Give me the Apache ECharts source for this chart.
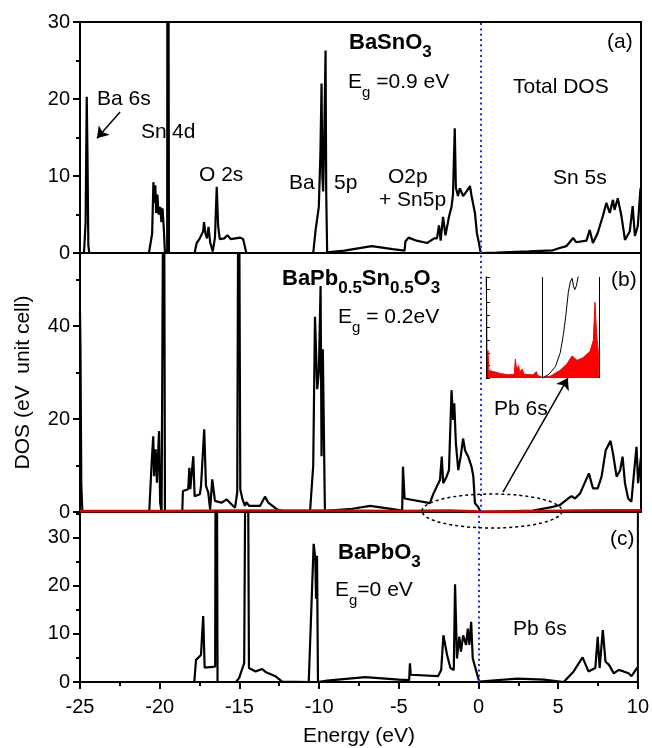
<!DOCTYPE html>
<html>
<head>
<meta charset="utf-8">
<script src="https://cdn.jsdelivr.net/npm/echarts@6/dist/echarts.min.js"></script>
<style>
html, body { margin: 0; padding: 0; background: #fff; }
#dos-chart { width: 652px; height: 748px; }
</style>
</head>
<body>
<div id="dos-chart"></div>
<script>
// energy (eV) / DOS pairs
var dosA = [
    [-25,0],[-24.75,0],[-24.65,4],[-24.58,20.3],[-24.53,12],[-24.48,1],[-24.42,0],
    [-20.7,0],[-20.5,2.5],[-20.42,9.2],[-20.36,6.5],[-20.3,8.8],[-20.25,5.2],[-20.17,7.6],[-20.1,5],[-20.0,6],[-19.92,4],[-19.85,5.8],[-19.78,3.5],[-19.7,0],
    [-19.56,0],[-19.53,100],[-19.48,100],[-19.45,0],
    [-17.85,0],[-17.72,1.3],[-17.55,1.8],[-17.45,2.0],[-17.32,2.8],[-17.26,4.0],[-17.18,2.6],[-17.08,1.9],[-16.98,3.4],[-16.88,1.4],[-16.72,0.2],[-16.58,2.0],[-16.47,8.6],[-16.38,3.5],[-16.28,1.8],[-16.0,1.9],[-15.8,2.3],[-15.6,1.8],[-15.3,1.9],[-15.0,2.0],[-14.82,1.8],[-14.62,0],
    [-10.45,0],[-10.3,3],[-10.1,6],[-10.0,13],[-9.93,22],[-9.88,10],[-9.83,8],[-9.77,14],[-9.68,26.3],[-9.64,8],[-9.58,0.1],
    [-8.5,0.3],[-6.8,0.9],[-5.5,0.5],[-4.75,0.3],[-4.7,1.5],[-4.5,2.0],[-4.0,1.6],[-3.35,1.3],[-2.9,1.9],[-2.73,1.9],[-2.6,3.6],[-2.5,1.6],[-2.35,4.7],[-2.2,2.3],[-1.98,4.7],[-1.82,6],[-1.73,7.6],[-1.62,16.2],[-1.55,8.5],[-1.42,7.4],[-1.3,8.4],[-1.1,7.4],[-0.88,8],[-0.67,8.7],[-0.57,7.4],[-0.48,7.6],[-0.36,5.2],[-0.24,2.6],[-0.11,1.3],[0,0],
    [1,0.05],[3,0.2],[4.5,0.35],[4.93,0.65],[5.35,0.9],[5.77,1.95],[5.95,1.4],[6.6,1.6],[6.8,3.0],[7.0,1.3],[7.3,2.6],[7.62,4.8],[7.84,6.5],[8.05,5.2],[8.25,6.9],[8.35,5.6],[8.55,7.1],[8.78,4.8],[9.0,1.7],[9.3,2.8],[9.48,6.1],[9.62,2.2],[9.8,3.5],[9.97,8.4],[10,8.4]
];
var dosB = [
    [-25,43],[-24.97,35],[-24.92,6],[-24.85,0],
    [-20.68,0],[-20.53,10.6],[-20.43,16.3],[-20.38,7.7],[-20.28,13.5],[-20.2,6.3],[-20.07,17.4],[-20.0,2],[-19.91,0],[-19.8,0],[-19.77,100],[-19.73,100],[-19.7,0],
    [-18.62,0],[-18.58,4.5],[-18.25,4.9],[-18.18,9.5],[-18.12,4.9],[-17.93,12.0],[-17.85,3.4],[-17.52,3.8],[-17.45,5.6],[-17.25,17.8],[-17.14,5.6],[-17.0,4.2],[-16.88,0.5],[-16.75,7.0],[-16.58,2.4],[-16.17,2.0],[-15.85,2.7],[-15.33,0.9],[-15.19,4.2],[-15.1,100],[-15.05,100],[-15.0,4.9],[-14.86,2.7],[-14.71,1.3],[-14.62,2.1],[-14.44,1.3],[-13.77,1.3],[-13.46,3.3],[-13.25,2.0],[-12.73,0.6],[-12.11,0],
    [-10.65,0],[-10.45,10],[-10.34,42],[-10.2,26.4],[-10.1,30],[-9.99,48.6],[-9.93,12],[-9.85,35],[-9.72,0],
    [-9.5,0.3],[-8,0.7],[-6.9,1.3],[-5.5,0.6],[-4.9,0.3],[-4.85,9.75],[-4.75,2.9],[-3.17,1.9],[-2.98,3.7],[-2.75,5.4],[-2.54,6.9],[-2.43,11.9],[-2.34,6.2],[-2.13,7.6],[-1.98,9],[-1.82,26.2],[-1.72,19.8],[-1.65,23.4],[-1.55,14.8],[-1.4,9],[-1.25,11.9],[-1.1,15.8],[-0.98,13.3],[-0.78,11.9],[-0.57,9.7],[-0.46,7.6],[-0.36,1.9],[-0.16,1.1],[0,0],
    [1,0.1],[3.26,0.3],[4.5,1.1],[4.93,1.5],[5.45,2.9],[5.67,3.4],[5.88,2.9],[6.2,4.0],[6.75,8.3],[7.0,5.1],[7.3,5.1],[7.54,7.6],[7.8,13.3],[7.9,13],[8.1,15.3],[8.25,12.6],[8.48,7.6],[8.7,9],[8.85,11.9],[9.0,6.2],[9.2,2.9],[9.4,2.2],[9.62,10.5],[9.72,14],[9.82,6.2],[10,11.9]
];
// Pb 6s partial DOS (red) in panel b
var pbB = [[-25,0.2],[-20,0.2],[-15,0.3],[-10,0.3],[-5,0.2],[-2,0.3],[0,0.1],[2,0.1],[4,0.2],[6,0.3],[8,0.4],[10,0.4]];
var dosC = [
    [-25,0],[-17.83,0],[-17.72,4.6],[-17.41,5.6],[-17.27,13.7],[-17.18,3.0],[-16.52,3.2],[-16.46,100],[-16.41,100],[-16.37,0],
    [-15.22,0],[-15.02,0.8],[-14.7,3.9],[-14.53,100],[-14.47,100],[-14.4,2.9],[-13.98,2.2],[-13.57,2.7],[-13.36,2.1],[-12.74,1.2],[-12.32,0.1],[-12.2,0],
    [-10.65,0],[-10.45,18.6],[-10.34,28.7],[-10.24,25.8],[-10.19,17.3],[-10.13,26.2],[-10.07,0],
    [-9.5,0.3],[-7.1,1.0],[-5,0.5],[-4.35,0.4],[-4.3,3.9],[-4.25,1.5],[-2.54,1.2],[-2.34,2.5],[-2.2,9.7],[-2.13,10],[-1.97,5.6],[-1.76,2.9],[-1.55,2.5],[-1.47,20.3],[-1.35,4.9],[-1.2,9.4],[-1.1,6.3],[-0.96,9.7],[-0.78,7.7],[-0.67,11.1],[-0.57,7.7],[-0.46,12.5],[-0.36,4.9],[0.04,0.1],
    [2.45,0.7],[4.1,0.5],[5.35,0],[5.97,2.2],[6.53,5.1],[6.9,2.2],[7.33,2.9],[7.48,9.4],[7.6,2.9],[7.8,10.8],[7.97,4.2],[8.18,3.6],[8.49,1.8],[8.8,2.5],[9.1,2.2],[9.42,1.8],[9.6,1.2],[9.94,2.9],[10,2.9]
];
// inset of panel b (zoom round the gap)
var insetPb = [[-3.5,0],[-3.42,0.3],[-3.38,2.2],[-3.33,0.6],[-3.0,0.5],[-2.6,0.35],[-2.14,0.25],[-1.75,0.3],[-1.68,1.5],[-1.6,0.6],[-1.48,1.0],[-1.42,0.5],[-1.25,0.7],[-1.15,0.3],[-0.6,0.25],[-0.38,0.5],[-0.3,0.2],[0,0.05],[0.5,0.15],[1.08,0.6],[1.5,1.1],[1.83,1.75],[2.14,1.4],[2.5,1.6],[2.94,2.1],[3.15,3.0],[3.25,6.0],[3.35,3.5],[3.45,2.2],[3.5,0]];
var insetTotal = [[-3.5,9],[-3.46,5.6],[-3.44,0],[-3.4,'-'],[0,0],[0.4,0.3],[0.8,0.9],[1.1,2.0],[1.3,3.5],[1.45,5.0],[1.6,6.8],[1.72,7.6],[1.83,7.9],[1.92,7.3],[2.0,7.0],[2.1,7.3],[2.25,8.3]];
var insetMarks = [0, 3.5];
var yMax = [30, 55.7, 35.3];
var yStep = [10, 20, 10];

var fam = '"Liberation Sans", Arial, sans-serif';
var black = '#000';

function xAxisOf(idx, bottom){
    var ax = {
        gridIndex: idx, type: 'value', min: -25, max: 10, interval: 5, position: 'bottom',
        splitLine: {show: false},
        axisLine: {onZero: false, lineStyle: {color: black, width: 2}},
        axisTick: {show: false},
        axisLabel: {show: false}
    };
    if (bottom){
        ax.axisTick = {show: true, length: 7, lineStyle: {color: black, width: 2}};
        ax.minorTick = {show: true, splitNumber: 2, length: 4, lineStyle: {color: black, width: 2}};
        ax.axisLabel = {show: true, color: black, fontSize: 20, fontFamily: fam, margin: 15};
        ax.name = 'Energy (eV)';
        ax.nameLocation = 'middle';
        ax.nameGap = 44;
        ax.nameTextStyle = {color: black, fontSize: 21, fontFamily: fam};
    }
    return ax;
}
// major axis (labels) and an overlaid minor axis (short ticks), both on the left
function yAxesOf(idx){
    var major = {
        gridIndex: idx, type: 'value', min: 0, max: yMax[idx], interval: yStep[idx], position: 'left',
        splitLine: {show: false},
        axisLine: {show: true, onZero: false, lineStyle: {color: black, width: 2}},
        axisTick: {show: true, length: 7, lineStyle: {color: black, width: 2}},
        axisLabel: {color: black, fontSize: 20, fontFamily: fam, margin: 10, showMaxLabel: yMax[idx] % yStep[idx] == 0}
    };
    var minor = {
        gridIndex: idx, type: 'value', min: 0, max: yMax[idx], interval: yStep[idx] / 2, position: 'left', offset: 0,
        splitLine: {show: false},
        axisLine: {show: false, onZero: false},
        axisTick: {show: true, length: 4, lineStyle: {color: black, width: 2}},
        axisLabel: {show: false}
    };
    if (idx == 1){
        major.name = 'DOS (eV  unit cell)';
        major.nameLocation = 'middle';
        major.nameGap = 46;
        major.nameTextStyle = {color: black, fontSize: 21, fontFamily: fam};
    }
    return [major, minor];
}
function text(x, y, str, rich){
    var st = {text: str, fill: black, fontSize: 21, fontFamily: fam, align: 'left', verticalAlign: 'middle'};
    if (rich) st.rich = rich;
    return {type: 'text', x: x, y: y, z: 100, style: st};
}
var richFormula = {
    b: {fontSize: 22, fontWeight: 'bold', fontFamily: fam, fill: black},
    s: {fontSize: 17, fontWeight: 'bold', fontFamily: fam, fill: black, padding: [18, 0, 0, 0]}
};
var richEg = {
    n: {fontSize: 21, fontFamily: fam, fill: black},
    s: {fontSize: 15, fontFamily: fam, fill: black, padding: [22, 0, 0, 0]}
};

var yAxes = [].concat(yAxesOf(0), yAxesOf(1), yAxesOf(2));
yAxes.push({gridIndex: 3, type: 'value', min: 0, max: 8, interval: 1, position: 'left',
    splitLine: {show: false}, axisLabel: {show: false},
    axisLine: {show: true, onZero: false, lineStyle: {color: black, width: 1}},
    axisTick: {show: true, inside: true, length: 4, lineStyle: {color: black, width: 1}}});

var zeroLine = {
    silent: true, symbol: 'none', label: {show: false},
    lineStyle: {color: '#1f2ee0', width: 2, type: [2, 3.3]},
    data: [{xAxis: 0}]
};

var chart = echarts.init(document.getElementById('dos-chart'));
chart.setOption({
    animation: false,
    backgroundColor: '#fff',
    grid: [
        {left: 80, top: 22, width: 561, height: 231, show: true, borderColor: black, borderWidth: 2},
        {left: 80, top: 253, width: 561, height: 259, show: true, borderColor: black, borderWidth: 2},
        {left: 80, top: 512, width: 561, height: 172, show: true, borderColor: black, borderWidth: 2},
        {left: 486, top: 277, width: 113, height: 101}
    ],
    xAxis: [xAxisOf(0, false), xAxisOf(1, false), xAxisOf(2, true),
        {gridIndex: 3, type: 'value', min: -3.5, max: 3.5, show: false}],
    yAxis: yAxes,
    series: [
        {
            type: 'line', xAxisIndex: 0, yAxisIndex: 0, data: dosA, showSymbol: false,
            lineStyle: {color: black, width: 2.2},
            markLine: zeroLine
        },
        {
            type: 'line', xAxisIndex: 0, yAxisIndex: 0, data: [], showSymbol: false,
            markLine: {
                silent: true, symbol: ['none', 'arrow'], symbolSize: 11, label: {show: false},
                lineStyle: {color: black, width: 1.5, type: 'solid'},
                data: [[{coord: [-22.5, 18.3]}, {coord: [-23.94, 14.9]}]]
            }
        },
        {
            type: 'line', xAxisIndex: 1, yAxisIndex: 2, data: dosB, showSymbol: false,
            lineStyle: {color: black, width: 2.2},
            markLine: zeroLine
        },
        {
            type: 'line', xAxisIndex: 1, yAxisIndex: 2, data: pbB, showSymbol: false,
            lineStyle: {color: '#e00000', width: 2.5},
            markLine: {
                silent: true, symbol: ['none', 'arrow'], symbolSize: 11, label: {show: false},
                lineStyle: {color: black, width: 1.5, type: 'solid'},
                data: [[{coord: [1.39, 4.3]}, {coord: [5.44, 28.8]}]]
            }
        },
        {
            type: 'line', xAxisIndex: 2, yAxisIndex: 4, data: dosC, showSymbol: false,
            lineStyle: {color: black, width: 2.2},
            markLine: zeroLine
        },
        {
            type: 'line', xAxisIndex: 3, yAxisIndex: 6, data: insetPb, showSymbol: false,
            lineStyle: {color: '#ff0000', width: 1},
            areaStyle: {color: '#ff0000', opacity: 1}
        },
        {
            type: 'line', xAxisIndex: 3, yAxisIndex: 6, data: insetTotal, showSymbol: false,
            lineStyle: {color: black, width: 1},
            markLine: {
                silent: true, symbol: 'none', label: {show: false},
                lineStyle: {color: black, width: 1, type: 'solid'},
                data: insetMarks.map(function(v){ return {xAxis: v}; })
            }
        }
    ],
    graphic: [
        // panel a
        text(97, 99, 'Ba 6s'),
        text(141, 132, 'Sn'),
        text(172, 132, '4d'),
        text(199, 175, 'O 2s'),
        text(289, 183, 'Ba'),
        text(334, 183, '5p'),
        text(388, 177, 'O2p'),
        text(379, 200, '+ Sn5p'),
        text(349, 43, '{b|BaSnO}{s|3}', richFormula),
        text(348, 82, '{n|E}{s|g}{n| =0.9 eV}', richEg),
        text(607, 42, '(a)'),
        text(513, 87, 'Total DOS'),
        text(553, 178, 'Sn 5s'),
        // panel b
        text(282, 279, '{b|BaPb}{s|0.5}{b|Sn}{s|0.5}{b|O}{s|3}', richFormula),
        text(338, 317, '{n|E}{s|g}{n| = 0.2eV}', richEg),
        text(611, 280, '(b)'),
        text(494, 409, 'Pb 6s'),
        {type: 'ellipse', z: 100, shape: {cx: 492, cy: 511, rx: 70, ry: 17},
            style: {fill: 'none', stroke: black, lineWidth: 1.5, lineDash: [3, 3]}},
        // panel c
        text(338, 553, '{b|BaPbO}{s|3}', richFormula),
        text(335, 590, '{n|E}{s|g}{n|=0 eV}', richEg),
        text(610, 539, '(c)'),
        text(513, 629, 'Pb 6s')
    ]
});
</script>
</body>
</html>
